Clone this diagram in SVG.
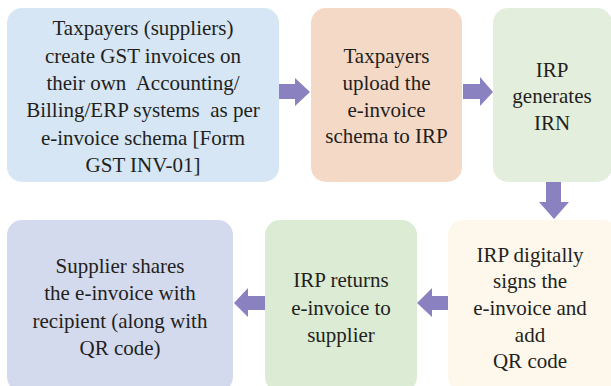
<svg xmlns="http://www.w3.org/2000/svg" width="611" height="386" viewBox="0 0 611 386">
<style>
.t{font-family:"Liberation Serif","Times New Roman",serif;font-size:21px;fill:#231f20;text-anchor:middle}
.a{fill:#8a82c0}
</style>
<rect width="611" height="386" fill="#ffffff"/>
<g id="n1"><rect x="7" y="8" width="272" height="174" rx="15" fill="#d6e6f4"/>
<text class="t" style="font-family:'Liberation Serif',serif" x="143" y="35">Taxpayers (suppliers)</text>
<text class="t" style="font-family:'Liberation Serif',serif" x="143" y="63">create GST invoices on</text>
<text class="t" style="font-family:'Liberation Serif',serif" x="143" y="90" xml:space="preserve">their own  Accounting/</text>
<text class="t" style="font-family:'Liberation Serif',serif" x="143" y="117" xml:space="preserve">Billing/ERP systems  as per</text>
<text class="t" style="font-family:'Liberation Serif',serif" x="143" y="145">e-invoice schema [Form</text>
<text class="t" style="font-family:'Liberation Serif',serif" x="143" y="172">GST INV-01]</text></g>
<g id="n2"><rect x="311" y="8" width="151" height="174" rx="15" fill="#f5d9c7"/>
<text class="t" style="font-family:'Liberation Serif',serif" x="386.5" y="63">Taxpayers</text>
<text class="t" style="font-family:'Liberation Serif',serif" x="386.5" y="90">upload the</text>
<text class="t" style="font-family:'Liberation Serif',serif" x="386.5" y="117">e-invoice</text>
<text class="t" style="font-family:'Liberation Serif',serif" x="386.5" y="143">schema to IRP</text></g>
<g id="n3"><rect x="493" y="8" width="119" height="174" rx="15" fill="#e3efdc"/>
<text class="t" style="font-family:'Liberation Serif',serif" x="552" y="77">IRP</text>
<text class="t" style="font-family:'Liberation Serif',serif" x="552" y="103">generates</text>
<text class="t" style="font-family:'Liberation Serif',serif" x="552" y="130">IRN</text></g>
<g id="n4"><rect x="448" y="220" width="170" height="172" rx="15" fill="#fef8ec"/>
<text class="t" style="font-family:'Liberation Serif',serif" x="530" y="262">IRP digitally</text>
<text class="t" style="font-family:'Liberation Serif',serif" x="530" y="288">signs the</text>
<text class="t" style="font-family:'Liberation Serif',serif" x="530" y="315">e-invoice and</text>
<text class="t" style="font-family:'Liberation Serif',serif" x="530" y="342">add</text>
<text class="t" style="font-family:'Liberation Serif',serif" x="530" y="368">QR code</text></g>
<g id="n5"><rect x="265" y="220" width="152" height="172" rx="15" fill="#dcebd3"/>
<text class="t" style="font-family:'Liberation Serif',serif" x="341" y="287">IRP returns</text>
<text class="t" style="font-family:'Liberation Serif',serif" x="341" y="315">e-invoice to</text>
<text class="t" style="font-family:'Liberation Serif',serif" x="341" y="342">supplier</text></g>
<g id="n6"><rect x="7" y="220" width="226" height="172" rx="15" fill="#d4daee"/>
<text class="t" style="font-family:'Liberation Serif',serif" x="120" y="273">Supplier shares</text>
<text class="t" style="font-family:'Liberation Serif',serif" x="120" y="300">the e-invoice with</text>
<text class="t" style="font-family:'Liberation Serif',serif" x="120" y="328">recipient (along with</text>
<text class="t" style="font-family:'Liberation Serif',serif" x="120" y="355">QR code)</text></g>
<g id="connectors">
<polygon class="a" points="279,84 295,84 295,78 310,92 295,106 295,99 279,99"/>
<polygon class="a" points="463,84 480,84 480,77 493,92 480,106 480,99 463,99"/>
<polygon class="a" points="546,182 561,182 561,202 569,202 554,219 539,202 546,202"/>
<polygon class="a" points="448,296 432,296 432,288 417,303 432,317 432,310 448,310"/>
<polygon class="a" points="265,296 248,296 248,288 234,303 248,317 248,310 265,310"/>
</g>
</svg>
